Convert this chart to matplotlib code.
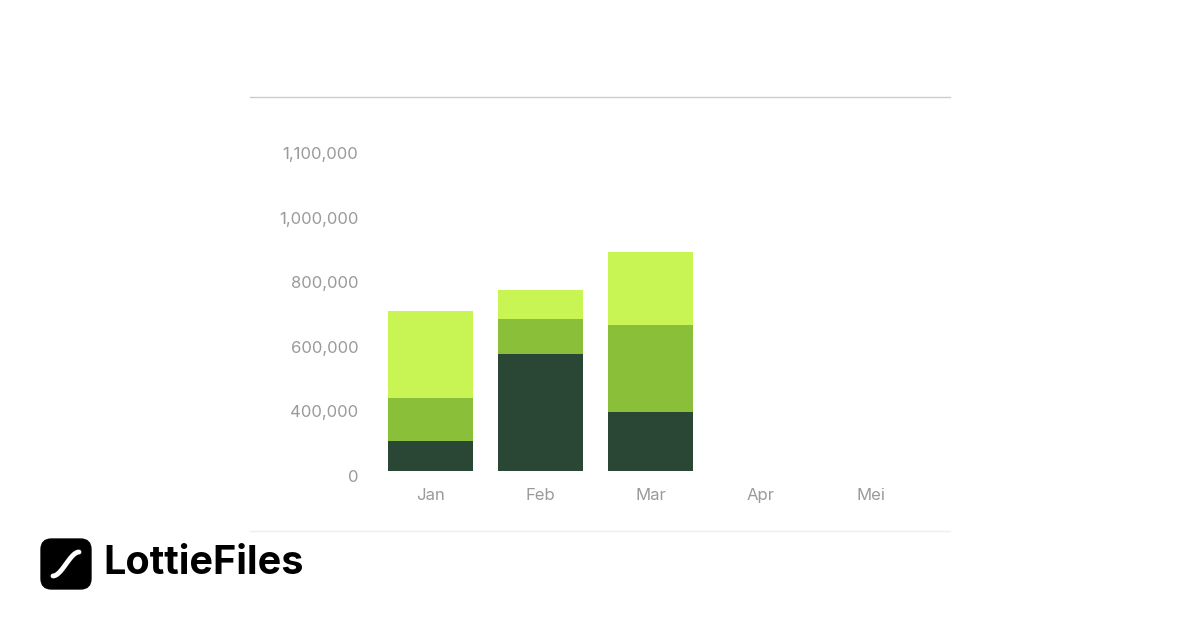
import matplotlib
matplotlib.use("Agg")
import matplotlib.pyplot as plt
import matplotlib.transforms as mtransforms
import numpy as np
from matplotlib.patches import FancyBboxPatch
from matplotlib.lines import Line2D

months = ["Jan", "Feb", "Mar", "Apr", "Mei"]
dark = [186000, 562000, 365000, 0, 0]
mid = [240000, 108000, 287000, 0, 0]
light = [270000, 90000, 226000, 0, 0]
tick_values = [0, 400000, 600000, 800000, 1000000, 1100000]
tick_labels = ["0", "400,000", "600,000", "800,000", "1,000,000", "1,100,000"]
colors = ["#2a4735", "#8abf3a", "#c8f553"]

plt.rcParams['font.family'] = ['Inter', 'DejaVu Sans']

# uneven axis: each tick sits one step above the previous
steps = np.arange(len(tick_values), dtype=float)
def fwd(v):
    return np.interp(v, tick_values, steps)
def inv(p):
    return np.interp(p, steps, tick_values)

fig = plt.figure(figsize=(12, 6.3), dpi=100)
ax = fig.add_axes([375 / 1200, 159 / 630, 551 / 1200, 323 / 630])
ax.set_yscale("function", functions=(fwd, inv))

x = np.arange(len(months))
bottom = np.zeros(len(months))
for vals, c in zip([dark, mid, light], colors):
    ax.bar(x, vals, bottom=bottom, width=0.77, color=c)
    bottom += np.array(vals)

ax.set_xlim(-0.5, 4.5)
ax.set_ylim(0, 1100000)
ax.set_yticks(tick_values)
ax.set_yticklabels(tick_labels)
ax.set_xticks(x)
ax.set_xticklabels(months)
ax.tick_params(length=0, colors="#9a9a9a", labelsize=12)
ax.tick_params(axis="y", pad=12)
ax.tick_params(axis="x", pad=12)
shift = mtransforms.ScaledTranslation(0, -5 / 100, fig.dpi_scale_trans)
for lbl in ax.get_yticklabels():
    lbl.set_transform(lbl.get_transform() + shift)
for s in ax.spines.values():
    s.set_visible(False)

# separator lines
fig.add_artist(Line2D([250 / 1200, 950 / 1200], [1 - 97 / 630] * 2, color="#cccccc", lw=1))
fig.add_artist(Line2D([250 / 1200, 950 / 1200], [1 - 531 / 630] * 2, color="#eeeeee", lw=1))

# LottieFiles logo
logo = fig.add_axes([40 / 1200, 1 - 590 / 630, 52 / 1200, 52 / 630])
logo.set_xlim(0, 1)
logo.set_ylim(0, 1)
logo.axis("off")
logo.add_patch(FancyBboxPatch((0.02, 0.02), 0.96, 0.96, boxstyle="round,pad=0,rounding_size=0.2",
                              color="black"))
t = np.linspace(0, 1, 50)
logo.plot(0.25 + 0.5 * t, 0.27 + 0.46 * (3 * t**2 - 2 * t**3),
          color="white", lw=3.5, solid_capstyle="round")
fig.text(103 / 1200, 1 - 564 / 630, "LottieFiles", fontsize=28.5, fontweight="bold",
         va="center", ha="left", color="black")

fig.savefig("out.png")
